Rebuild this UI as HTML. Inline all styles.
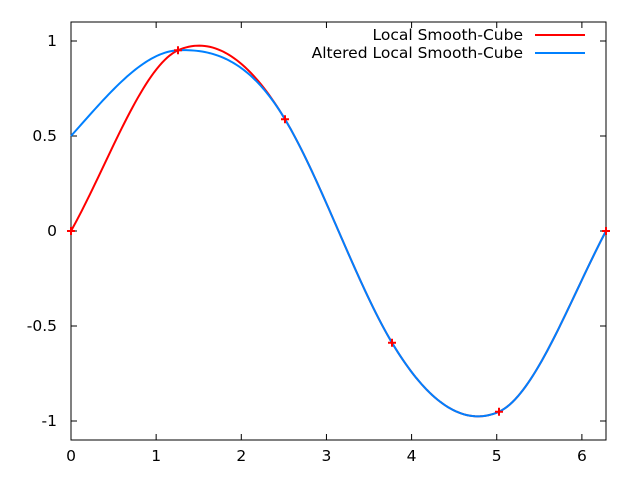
<!DOCTYPE html>
<html><head><meta charset="utf-8"><style>
body{margin:0;background:#fff}
svg{display:block;font-family:"DejaVu Sans","Liberation Sans",sans-serif;font-size:15.5px}
</style></head><body>
<svg id="chart" width="640" height="480" viewBox="0 0 640 480"></svg>
<script>
const xTicks=[0,1,2,3,4,5,6];
const yTicks=[1,0.5,0,-0.5,-1];
const yTickLabels=["1","0.5","0","-0.5","-1"];
const knotX=[0,1.2566,2.5133,3.7699,5.0265,6.2832];
const redY=[0,0.951,0.588,-0.588,-0.951,0];
const redSlope=[0.8,0.2,-0.75,-0.75,0.2,0.85];
const blueY=[0.5,0.951,0.588,-0.588,-0.951,0];
const blueSlope=[0.5,0.02,-0.75,-0.75,0.2,0.85];
const markX=[0,1.2566,2.5133,3.7699,5.0265,6.2832];
const markY=[0,0.951,0.588,-0.588,-0.951,0];
const seriesNames=["Local Smooth-Cube","Altered Local Smooth-Cube"];

const L=71,R=606,T=22,B=440,xMin=0,xMax=6.2832,yMin=-1.1,yMax=1.1;
const sx=v=>L+(v-xMin)/(xMax-xMin)*(R-L);
const sy=v=>B-(v-yMin)/(yMax-yMin)*(B-T);
const svg=document.getElementById('chart');
const NS='http://www.w3.org/2000/svg';
function mk(tag,attrs,parent){const e=document.createElementNS(NS,tag);for(const k in attrs)e.setAttribute(k,attrs[k]);(parent||svg).appendChild(e);return e;}

const frame=mk('rect',{x:L,y:T,width:R-L,height:B-T,fill:'none',stroke:'#000','stroke-width':1});


xTicks.forEach(t=>{
  const x=sx(t);
  const tk=mk('path',{d:`M${x} ${B}v-6M${x} ${T}v6`,stroke:'#000'});
  
  
  const tx=mk('text',{x:x,y:B+21,'text-anchor':'middle',fill:'#000'});
  tx.textContent=String(t);
  
  
});
yTicks.forEach((t,i)=>{
  const y=sy(t);
  const tk=mk('path',{d:`M${L} ${y}h6M${R} ${y}h-6`,stroke:'#000'});
  
  
  const tx=mk('text',{x:L-14,y:y+5,'text-anchor':'end',fill:'#000'});
  tx.textContent=yTickLabels[i];
  
  
});
function hermitePath(xs,ys,ms){
  let d='';
  for(let i=0;i<xs.length-1;i++){
    const h=xs[i+1]-xs[i];
    for(let k=0;k<=40;k++){
      const t=k/40,t2=t*t,t3=t2*t;
      const v=(2*t3-3*t2+1)*ys[i]+(t3-2*t2+t)*h*ms[i]+(-2*t3+3*t2)*ys[i+1]+(t3-t2)*h*ms[i+1];
      const x=xs[i]+t*h;
      d+=(d?'L':'M')+sx(x).toFixed(2)+' '+sy(v).toFixed(2);
    }
  }
  return d;
}
const red=mk('path',{d:hermitePath(knotX,redY,redSlope),fill:'none',stroke:'#ff0000','stroke-width':2});


const blue=mk('path',{d:hermitePath(knotX,blueY,blueSlope),fill:'none',stroke:'#0080ff','stroke-width':2});


markX.forEach((v,i)=>{
  const x=sx(v),y=sy(markY[i]);
  const m=mk('path',{d:`M${x-4} ${y}h8M${x} ${y-4}v8`,stroke:'#ff0000','stroke-width':2});
  
  
});
const colors=['#ff0000','#0080ff'];
seriesNames.forEach((n,i)=>{
  const y=35+i*18;
  const t=mk('text',{x:523,y:y+5,'text-anchor':'end',fill:'#000'});
  t.textContent=n;
  
  
  const l=mk('path',{d:`M535 ${y}H585`,stroke:colors[i],'stroke-width':2});
  
  
});
</script>
</body></html>
